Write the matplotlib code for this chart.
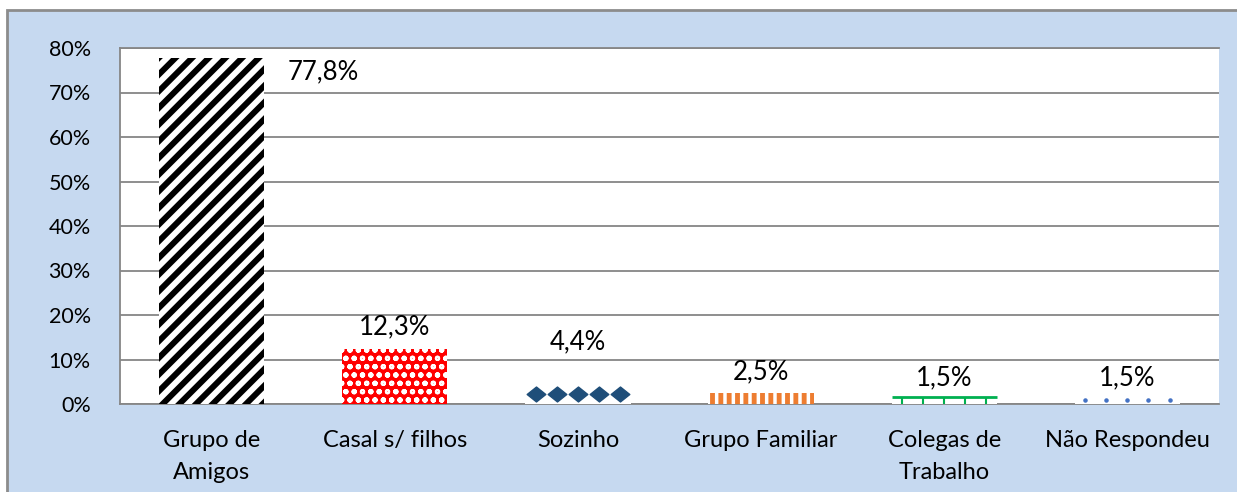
import matplotlib
matplotlib.use('Agg')
from matplotlib import pyplot as plt
from matplotlib.patches import Rectangle
from matplotlib.path import Path
import numpy as np

categories = ['Grupo de\nAmigos', 'Casal s/ filhos', 'Sozinho',
              'Grupo Familiar', 'Colegas de\nTrabalho', 'Não Respondeu']
values = [77.8, 12.3, 4.4, 2.5, 1.5, 1.5]
labels = ['77,8%', '12,3%', '4,4%', '2,5%', '1,5%', '1,5%']
yticks = [0, 10, 20, 30, 40, 50, 60, 70, 80]

plt.rcParams['font.family'] = ['Lato', 'DejaVu Sans']
plt.rcParams['hatch.linewidth'] = 4

fig = plt.figure(figsize=(12.37, 4.92), dpi=100)
fig.patch.set_facecolor('white')
fig.patches.append(Rectangle((7 / 1237, -0.05), 1.0, (492 - 10) / 492 + 0.05,
                             transform=fig.transFigure, facecolor='#C6D9F0',
                             edgecolor='#8C8C8C', linewidth=2, zorder=-5))

ax = fig.add_axes([120 / 1237, 88 / 492, 1099 / 1237, 356 / 492])
ax.set_facecolor('white')

x = np.arange(len(categories))
bars = ax.bar(x, values, width=0.575, color='white', linewidth=0, zorder=3)

# bar patterns
b = bars[0]
b.set_hatch('//')
b.set_edgecolor('black')
if hasattr(b, 'set_hatch_linewidth'):
    b.set_hatch_linewidth(4.3)

b = bars[1]
b.set_facecolor('#FF0000')
b.set_hatch('oo')
b.set_edgecolor('white')
if hasattr(b, 'set_hatch_linewidth'):
    b.set_hatch_linewidth(1.5)

b = bars[3]
b.set_hatch('||')
b.set_edgecolor('#ED7D31')
if hasattr(b, 'set_hatch_linewidth'):
    b.set_hatch_linewidth(3.5)
for b in bars:
    b.set_linewidth(0)

# diamonds for Sozinho
wide_diamond = Path([(-1, 0), (0, 0.8), (1, 0), (0, -0.8), (-1, 0)],
                    [Path.MOVETO, Path.LINETO, Path.LINETO, Path.LINETO, Path.CLOSEPOLY])
b = bars[2]
bx = b.get_x() + b.get_width() * (np.arange(5) + 0.5) / 5
ax.scatter(bx, np.full(5, b.get_height() / 2), marker=wide_diamond, s=180,
           color='#1F4E79', zorder=4, clip_on=False)

# green rail for Colegas de Trabalho
b = bars[4]
ax.plot([b.get_x(), b.get_x() + b.get_width()], [b.get_height()] * 2,
        color='#00B050', lw=2, zorder=4, solid_capstyle='butt')
gx = b.get_x() + b.get_width() * (np.arange(5) + 0.5) / 5
ax.vlines(gx, 0, b.get_height(), color='#00B050', lw=1.5, zorder=4)

# dots for Não Respondeu
b = bars[5]
dx = b.get_x() + b.get_width() * (np.arange(5) + 0.5) / 5
ax.scatter(dx, np.full(5, b.get_height() * 0.6), marker='o', s=5,
           color='#4472C4', zorder=4)

# value labels
ax.text(x[0] + 0.61, 74.6, labels[0], ha='center', va='center', fontsize=18.5)
offsets = [0, 22, 43, 21, 20, 20]
for i in range(1, len(values)):
    ax.annotate(labels[i], (x[i], values[i]), xytext=(0, offsets[i]),
                textcoords='offset pixels', ha='center', va='center', fontsize=18.5)

ax.set_ylim(0, 80)
ax.set_xlim(-0.5, len(categories) - 0.5)
ax.set_yticks(yticks)
ax.set_yticklabels(['%d%%' % t for t in yticks], fontsize=15.5)
ax.set_xticks(x)
ax.set_xticklabels(categories, linespacing=1.65, fontsize=17)
ax.tick_params(axis='both', length=0)
ax.tick_params(axis='y', pad=21)
ax.tick_params(axis='x', pad=19)
ax.yaxis.grid(True, color='#868686', lw=1.3, zorder=0)
ax.set_axisbelow(True)
for s in ['left', 'bottom', 'top']:
    ax.spines[s].set_color('#868686')
    ax.spines[s].set_linewidth(1.3)
ax.spines['right'].set_visible(False)

fig.savefig('out.png', dpi=100)
